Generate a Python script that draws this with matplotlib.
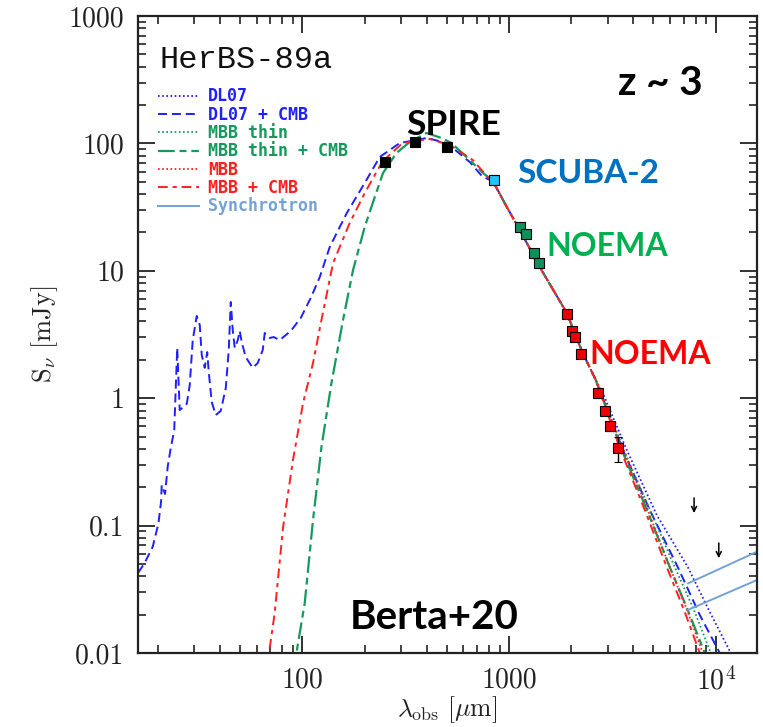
import matplotlib
matplotlib.use('Agg')
import numpy as np
import matplotlib.pyplot as plt
from matplotlib.ticker import LogLocator, NullFormatter

# photometry: SPIRE, SCUBA-2 and NOEMA (wavelength in micron, flux in mJy)
spire_lam = [250, 350, 500]
spire_flux = [72, 103, 94]
spire_err = [4, 6, 6]

scuba_lam = [850]
scuba_flux = [52]
scuba_err = [4.5]

noema1_lam = [1136, 1213, 1317, 1397]
noema1_flux = [22.2, 19.4, 13.7, 11.5]
noema1_err = [1.5, 1.3, 1.0, 0.9]

noema2_lam = [1897, 2006, 2080, 2241, 2697, 2906, 3096, 3372]
noema2_flux = [4.58, 3.39, 3.04, 2.22, 1.09, 0.80, 0.605, 0.404]
noema2_err = [0.3, 0.25, 0.22, 0.16, 0.08, 0.06, 0.05, 0.09]

# upper limits at long wavelength
ul_lam = [7862, 10352]
ul_flux = [0.165, 0.073]

# model SEDs
# part of the Rayleigh-Jeans side shared by all fits
desc_lam = [834, 975, 1127, 1408, 1902, 2273, 2628]
desc_flux = [50.7, 31.7, 20.9, 10.7, 4.67, 2.26, 1.39]

dl07_body_lam = [16.0, 17.2, 18.86, 20.09, 20.69, 20.84, 21.63, 22.28, 22.96, 23.96,
                 24.77, 25.47, 27.54, 28.48, 29.45, 30.79, 31.84, 32.56, 33.66, 34.61,
                 35.20, 36.39, 38.04, 40.23, 42.55, 43.99, 44.98, 45.99, 47.03, 48.63,
                 49.72, 50.84, 53.16, 57.46, 60.76, 64.24, 65.69, 69.45, 72.62, 77.64,
                 87.8, 98.1, 109.7, 121.3, 135.6, 163.9, 200.2, 236.6, 295.8, 399.6,
                 499.4, 645.5, 745.9]
dl07_body_flux = [0.0425, 0.0506, 0.0683, 0.104, 0.154, 0.208, 0.177, 0.290, 0.392, 0.563,
                  2.48, 0.807, 0.900, 1.27, 2.86, 4.42, 3.76, 2.18, 1.73, 2.30,
                  1.61, 0.933, 0.738, 0.794, 1.20, 2.39, 5.69, 3.43, 2.48, 2.86,
                  3.37, 2.76, 2.10, 1.73, 1.89, 2.39, 3.25, 2.97, 3.02, 2.86,
                  3.37, 4.26, 6.12, 8.94, 15.4, 28.4, 48.9, 78.2, 100.7, 110.3,
                  100.7, 71.4, 54.5]
dl07_cmb_tail_lam = [3591, 4797, 6553, 8375, 10467, 11317]
dl07_cmb_tail_flux = [0.378, 0.1326, 0.0473, 0.0199, 0.0100, 0.0071]
dl07_tail_lam = [2841, 3713, 5187, 7328, 9363, 11834, 12794]
dl07_tail_flux = [1.10, 0.392, 0.121, 0.0473, 0.0210, 0.0100, 0.0071]

thin_body_lam = [91.8, 93.5, 102.6, 112.5, 123.6, 138.2, 157.2, 175.8, 200.2, 223.9,
                 245.5, 285.1, 330.7, 398.2, 470.9, 526.3, 622.0, 748.4]
thin_body_flux = [0.0071, 0.0100, 0.0247, 0.1107, 0.414, 1.316, 4.11, 10.15, 22.1, 37.9,
                  58.6, 84.1, 102.6, 120.7, 110.3, 100.7, 78.2, 58.6]
thin_cmb_tail_lam = [3512, 4692, 5995, 7491, 8857, 9469]
thin_cmb_tail_flux = [0.392, 0.1278, 0.0473, 0.0199, 0.0100, 0.0071]
thin_tail_lam = [3591, 4906, 6339, 7922, 9469, 10123]
thin_tail_flux = [0.392, 0.1233, 0.0473, 0.0210, 0.0100, 0.0071]

mbb_body_lam = [67.2, 68.9, 73.4, 80.6, 90.0, 100.7, 112.5, 123.6, 140.7, 169.3,
                200.2, 244.7, 305.8, 413.2, 516.4, 667.4, 788.5]
mbb_body_flux = [0.0071, 0.0100, 0.0206, 0.0975, 0.327, 0.917, 1.89, 4.11, 11.5, 23.7,
                 40.8, 72.8, 100.7, 108.3, 97.1, 74.1, 54.5]
mbb_cmb_tail_lam = [3434, 4538, 5797, 7086, 8375, 8958]
mbb_cmb_tail_flux = [0.407, 0.1326, 0.0473, 0.0210, 0.0100, 0.0071]
mbb_tail_lam = [3551, 4692, 5995, 7328, 8662, 9261]
mbb_tail_flux = [0.407, 0.1326, 0.0473, 0.0210, 0.0100, 0.0071]

sync_lam = [7351, 15850]
sync_flux_a = [0.0352, 0.0624]
sync_flux_b = [0.0218, 0.0374]

BLUE = '#1f1fff'
GREEN = '#139a5c'
RED = '#ff2020'
SYNC = '#73a2d4'

plt.rcParams['mathtext.fontset'] = 'cm'
plt.rcParams['lines.scale_dashes'] = False
plt.rcParams['axes.unicode_minus'] = False

fig = plt.figure(figsize=(7.63, 7.27), dpi=100)
ax = fig.add_axes([138 / 763, 74 / 727, 619 / 763, 637 / 727])
ax.set_xscale('log')
ax.set_yscale('log')
ax.set_xlim(16, 15850)
ax.set_ylim(0.01, 1000)

l_dl07, = ax.plot(desc_lam + dl07_tail_lam, desc_flux + dl07_tail_flux,
                  color=BLUE, lw=1.3, dashes=(1.2, 1.8), label='DL07')
l_dl07c, = ax.plot(dl07_body_lam + desc_lam + dl07_cmb_tail_lam,
                   dl07_body_flux + desc_flux + dl07_cmb_tail_flux,
                   color=BLUE, lw=1.4, dashes=(6.5, 3.5), label='DL07 + CMB')
l_thin, = ax.plot(desc_lam + thin_tail_lam, desc_flux + thin_tail_flux,
                  color=GREEN, lw=1.3, dashes=(1.2, 1.8), label='MBB thin')
l_thinc, = ax.plot(thin_body_lam + desc_lam + thin_cmb_tail_lam,
                   thin_body_flux + desc_flux + thin_cmb_tail_flux,
                   color=GREEN, lw=1.6, dashes=(12, 3.5, 5, 3.5), label='MBB thin + CMB')
l_mbb, = ax.plot(desc_lam + mbb_tail_lam, desc_flux + mbb_tail_flux,
                 color=RED, lw=1.3, dashes=(1.2, 1.8), label='MBB')
l_mbbc, = ax.plot(mbb_body_lam + desc_lam + mbb_cmb_tail_lam,
                  mbb_body_flux + desc_flux + mbb_cmb_tail_flux,
                  color=RED, lw=1.4, dashes=(7, 3.5, 3, 3.5), label='MBB + CMB')
l_sync, = ax.plot(sync_lam, sync_flux_a, color=SYNC, lw=1.4, label='Synchrotron')
ax.plot(sync_lam, sync_flux_b, color=SYNC, lw=1.4)

pt = dict(fmt='s', ms=6.5, mec='black', mew=0.8, ecolor='black', elinewidth=1.0,
          capsize=3, zorder=6)
ax.errorbar(spire_lam, spire_flux, yerr=spire_err, mfc='black', **pt)
ax.errorbar(scuba_lam, scuba_flux, yerr=scuba_err, mfc='#22c4f0', **pt)
ax.errorbar(noema1_lam, noema1_flux, yerr=noema1_err, mfc='#118f5a', **pt)
ax.errorbar(noema2_lam, noema2_flux, yerr=noema2_err, mfc='#ee0000', **pt)

for lam, lim in zip(ul_lam, ul_flux):
    ax.annotate('', xy=(lam, lim * 0.76), xytext=(lam, lim),
                arrowprops=dict(arrowstyle='->', color='black', lw=1.1,
                                mutation_scale=9, shrinkA=0, shrinkB=0))

# axes styling
ax.set_xticks([100, 1000, 10000])
ax.set_xticklabels(['100', '1000', r'$10^4$'])
ax.set_yticks([0.01, 0.1, 1, 10, 100, 1000])
ax.set_yticklabels(['0.01', '0.1', '1', '10', '100', '1000'])
ax.xaxis.set_minor_locator(LogLocator(base=10, subs=np.arange(2, 10)))
ax.yaxis.set_minor_locator(LogLocator(base=10, subs=np.arange(2, 10)))
ax.xaxis.set_minor_formatter(NullFormatter())
ax.yaxis.set_minor_formatter(NullFormatter())
ax.tick_params(which='both', direction='in', top=True, right=True, color='#222222')
ax.tick_params(which='major', length=12, width=1.3, labelsize=20, pad=10,
               labelfontfamily='cmr10', labelcolor='#222222')
ax.tick_params(which='minor', length=6, width=1.2)
for sp in ax.spines.values():
    sp.set_linewidth(1.6)
    sp.set_color('#222222')

ax.set_xlabel(r'$\lambda_{\rm obs}\ [\mu{\rm m}]$', fontsize=18.5, labelpad=-1, color='#222222')
ax.set_ylabel(r'${\rm S}_\nu\ [{\rm mJy}]$', fontsize=19, labelpad=6, color='#222222')

ax.text(0.0355, 0.918, 'HerBS-89a', transform=ax.transAxes, family='Liberation Mono',
        fontsize=23, va='baseline', ha='left', color='#111111')

leg = ax.legend(handles=[l_dl07, l_dl07c, l_thin, l_thinc, l_mbb, l_mbbc, l_sync],
                loc='upper left', bbox_to_anchor=(0.032, 0.888), frameon=False,
                prop=dict(family='DejaVu Sans Mono', weight='bold', size=12),
                labelcolor='linecolor', handlelength=2.5, handletextpad=0.5,
                labelspacing=0.02, borderpad=0, borderaxespad=0)

lab = dict(transform=ax.transAxes, family='Lato', weight='bold', ha='center', va='center')
ax.text(0.510, 0.829, 'SPIRE', color='black', fontsize=25.5, **lab)
ax.text(0.727, 0.753, 'SCUBA-2', color='#0070c0', fontsize=24, **lab)
ax.text(0.758, 0.638, 'NOEMA', color='#00b050', fontsize=23, **lab)
ax.text(0.827, 0.469, 'NOEMA', color='#ff0000', fontsize=23, **lab)
ax.text(0.843, 0.894, 'z ~ 3', color='black', fontsize=29, **lab)
ax.text(0.478, 0.055, 'Berta+20', color='black', fontsize=29, **lab)

fig.savefig('out.png', dpi=100)
